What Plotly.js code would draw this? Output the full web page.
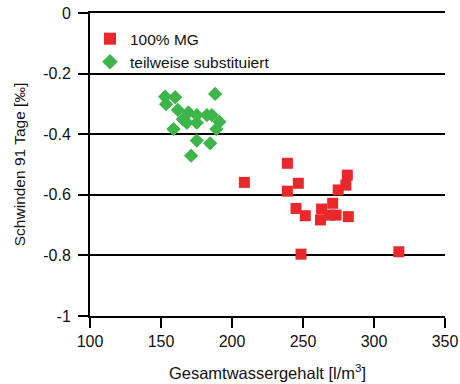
<!DOCTYPE html>
<html><head><meta charset="utf-8">
<script src="https://cdn.plot.ly/plotly-3.0.1.min.js"></script>
<style>html,body{margin:0;padding:0;background:#fff}#c{width:460px;height:384px}</style>
</head><body><div id="c"></div>
<script>
const mgX = [208.7, 239.0, 239.0, 246.7, 245.1, 251.6, 248.6, 262.3, 263.1, 270.9, 269.0, 273.3, 274.8, 280.2, 281.2, 281.9, 317.5];
const mgY = [-0.559, -0.496, -0.588, -0.562, -0.645, -0.669, -0.796, -0.683, -0.647, -0.628, -0.667, -0.667, -0.584, -0.568, -0.535, -0.672, -0.788];
const subX = [152.9, 160.0, 153.6, 188.1, 161.9, 169.3, 165.4, 168.2, 175.2, 175.2, 182.3, 185.8, 191.1, 189.0, 158.8, 175.2, 184.6, 171.2];
const subY = [-0.276, -0.278, -0.301, -0.267, -0.320, -0.328, -0.351, -0.362, -0.337, -0.362, -0.337, -0.337, -0.359, -0.383, -0.383, -0.421, -0.430, -0.471];
const yTicks = [0, -0.2, -0.4, -0.6, -0.8, -1];
const yTickText = ["0", "-0.2", "-0.4", "-0.6", "-0.8", "-1"];
const xTicks = [100, 150, 200, 250, 300, 350];
const names = ["100% MG", "teilweise substituiert"];

const fam = "Liberation Sans, Arial, sans-serif";
const data = [
  {x: mgX, y: mgY, type: "scatter", mode: "markers", name: names[0],
   marker: {symbol: "square", size: 11, color: "#e8282a"}},
  {x: subX, y: subY, type: "scatter", mode: "markers", name: names[1],
   marker: {symbol: "diamond", size: 11, color: "#3db54a"}}
];
const layout = {
  width: 460, height: 384,
  margin: {l: 90, r: 15, t: 13, b: 68},
  paper_bgcolor: "#fff", plot_bgcolor: "#fff",
  font: {family: fam, size: 16, color: "#111"},
  showlegend: true,
  legend: {x: 0.0, y: 0.97, xanchor: "left", yanchor: "top", bgcolor: "rgba(0,0,0,0)",
           font: {family: fam, size: 15.5, color: "#111"}, itemsizing: "constant",
           tracegroupgap: 0},
  xaxis: {range: [100, 350], tickvals: xTicks, ticks: "outside", ticklen: 10, tickwidth: 2,
          tickcolor: "#000", showline: true, linecolor: "#000", linewidth: 2, mirror: true,
          showgrid: false, zeroline: false, tickfont: {family: fam, size: 16, color: "#111"},
          title: {text: "Gesamtwassergehalt [l/m<sup>3</sup>]", font: {family: fam, size: 16.5, color: "#111"}, standoff: 18}},
  yaxis: {range: [-1, 0], tickvals: yTicks, ticktext: yTickText, ticks: "outside", ticklen: 10, tickwidth: 2,
          tickcolor: "#000", showline: true, linecolor: "#000", linewidth: 2, ticklabelstandoff: 4,
          showgrid: true, gridcolor: "#000", gridwidth: 2, zeroline: false, tickfont: {family: fam, size: 16, color: "#111"},
          title: {text: "Schwinden 91 Tage [‰]", font: {family: fam, size: 15.5, color: "#111"}, standoff: 14}}
};
Plotly.newPlot("c", data, layout, {displayModeBar: false, staticPlot: true});
</script></body></html>
